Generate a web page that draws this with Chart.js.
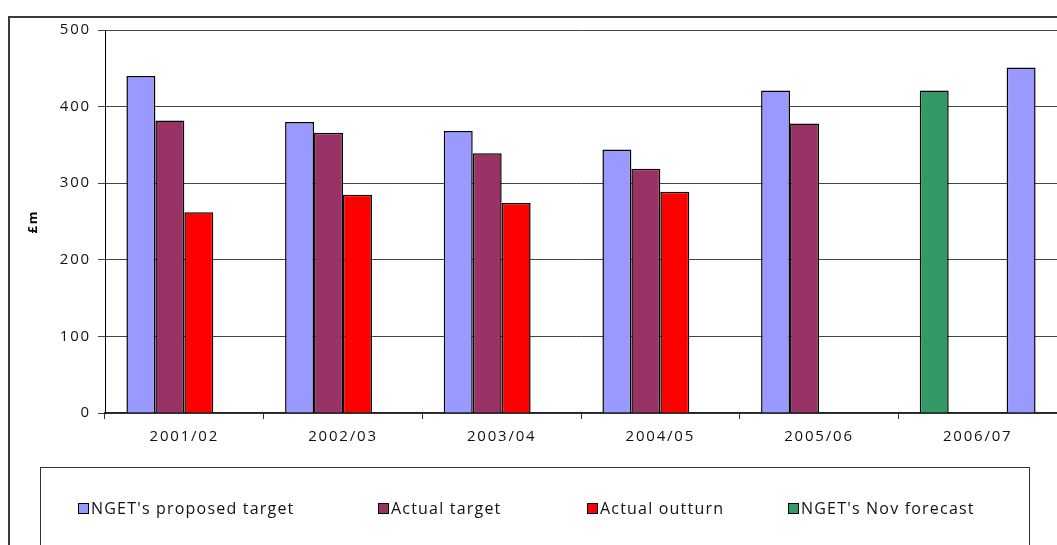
<!DOCTYPE html>
<html>
<head>
<meta charset="utf-8">
<script src="https://cdn.jsdelivr.net/npm/chart.js@4/dist/chart.umd.min.js"></script>
<style>
    body { margin: 0; background: #fff; }
    #wrap { position: relative; width: 1057px; height: 545px; overflow: hidden; font-family: "Open Sans", sans-serif; }
    #frame { position: absolute; left: 8px; top: 16px; width: 1100px; height: 600px; border: 2px solid #3a3a3a; }
    #chart { position: absolute; left: 0; top: 0; }
    #legend { position: absolute; left: 40px; top: 467px; width: 990px; height: 100px; border: 1px solid #333;
              display: flex; align-items: flex-start; padding: 29px 0 0 37px; box-sizing: border-box;
              font-size: 16px; letter-spacing: 1.2px; color: #111; }
    .item { display: flex; align-items: center; white-space: nowrap; }
    .item:nth-child(1) { width: 300px; }
    .item:nth-child(2) { width: 209px; }
    .item:nth-child(3) { width: 201px; }
    .sw { width: 9px; height: 9px; border: 1px solid #000; margin-right: 2px; }
</style>
</head>
<body>
<div id="wrap">
    <div id="frame"></div>
    <canvas id="chart" width="1057" height="545"></canvas>
    <div id="legend"></div>
</div>
<script>
const years = ['2001/02', '2002/03', '2003/04', '2004/05', '2005/06', '2006/07'];
const proposedTarget = [440, 380, 368, 344, 421, null];
const actualTarget = [382, 366, 339, 319, 378, null];
const actualOutturn = [262, 285, 274, 289, null, null];
const novForecast = [null, null, null, null, null, 421];
const proposedTarget0607 = [null, null, null, null, null, 451]; // sits in the 4th slot in the chart
const yTicks = [0, 100, 200, 300, 400, 500];

const colours = {
    proposed: '#9999ff',
    actual: '#993366',
    outturn: '#ff0000',
    nov: '#339966'
};

const spacing = {
    id: 'spacing',
    beforeLayout(chart) { chart.ctx.letterSpacing = '1.8px'; },
    beforeDraw(chart) { chart.ctx.letterSpacing = '1.8px'; }
};

const bar = (label, data, color, stack, legend = true) => ({
    label, data, stack, backgroundColor: color, borderColor: '#000', borderWidth: 1.5,
    barPercentage: 1, categoryPercentage: 0.73, inLegend: legend
});

const chart = new Chart(document.getElementById('chart'), {
    type: 'bar',
    data: {
        labels: years,
        datasets: [
            bar("NGET's proposed target", proposedTarget, colours.proposed, 'a'),
            bar('Actual target', actualTarget, colours.actual, 'b'),
            bar('Actual outturn', actualOutturn, colours.outturn, 'c'),
            bar("NGET's Nov forecast", novForecast, colours.nov, 'a'),
            bar("NGET's proposed target", proposedTarget0607, colours.proposed, 'd', false)
        ]
    },
    options: {
        responsive: false,
        animation: false,
        layout: { padding: { top: 30, left: 0, right: 0, bottom: 0 } },
        plugins: { legend: { display: false }, tooltip: { enabled: false } },
        scales: {
            x: {
                afterFit(s) { s.height = 132; },
                grid: { drawOnChartArea: false, drawTicks: true, tickLength: 6, color: '#333' },
                border: { color: '#222', width: 1.5 },
                ticks: { color: '#111', padding: 9, font: { family: 'Open Sans', size: 15 } }
            },
            y: {
                min: 0, max: 500,
                afterFit(s) { s.width = 105; },
                afterBuildTicks(s) { s.ticks = yTicks.map(v => ({ value: v })); },
                grid: { color: '#444', tickLength: 7 },
                border: { color: '#000', width: 1 },
                ticks: { color: '#111', padding: 7, font: { family: 'Open Sans', size: 15 } },
                title: { display: true, text: '£m', color: '#000', padding: { top: 25, bottom: 0 },
                         font: { family: 'Open Sans', size: 13, weight: 'bold' } }
            }
        }
    },
    plugins: [spacing]
});

// legend box from the datasets
const legend = document.getElementById('legend');
chart.data.datasets.filter(d => d.inLegend).forEach(d => {
    const item = document.createElement('div');
    item.className = 'item';
    item.innerHTML = `<span class="sw" style="background:${d.backgroundColor}"></span>${d.label}`;
    legend.appendChild(item);
});
</script>
</body>
</html>
